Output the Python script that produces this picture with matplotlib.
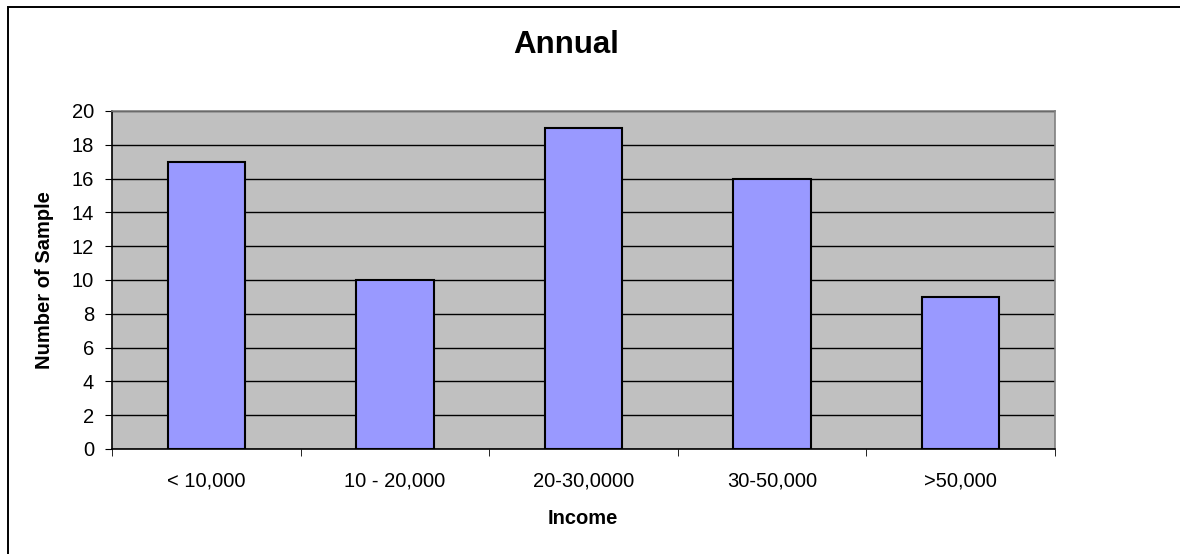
import matplotlib
matplotlib.use("Agg")
import matplotlib.pyplot as plt
from matplotlib.patches import Rectangle
import numpy as np

plt.rcParams['font.family'] = ['Liberation Sans', 'DejaVu Sans']

# data
categories = ["< 10,000", "10 - 20,000", "20-30,0000", "30-50,000", ">50,000"]
counts = [17, 10, 19, 16, 9]
y_ticks = list(range(0, 21, 2))

fig = plt.figure(figsize=(11.8, 5.54), dpi=100)
ax = fig.add_axes([112 / 1180, 1 - 449 / 554, (1055 - 112) / 1180, (449 - 111) / 554])

x = np.arange(len(categories))
ax.set_facecolor("#C0C0C0")
ax.bar(x, counts, width=0.41, color="#9999FF", edgecolor="black", linewidth=1.5, zorder=3)

ax.set_xlim(-0.5, len(categories) - 0.5)
ax.set_ylim(0, 20)
ax.set_yticks(y_ticks)
ax.yaxis.grid(True, color="black", linewidth=1.0, zorder=1)
ax.set_axisbelow(True)

ax.set_xticks(x)
ax.set_xticklabels(categories, fontsize=14.5)
ax.set_xticks(np.arange(-0.5, len(categories)), minor=True)
ax.tick_params(axis="x", which="major", length=0, pad=16)
ax.tick_params(axis="x", which="minor", length=5, direction="out", color="black")
ax.tick_params(axis="y", labelsize=14.5, length=5, direction="out", pad=8)

for side in ["left", "bottom"]:
    ax.spines[side].set_color("black")
    ax.spines[side].set_linewidth(1.2)
for side in ["top", "right"]:
    ax.spines[side].set_color("#808080")
    ax.spines[side].set_linewidth(1.2)

fig.text(566 / 1180, 1 - 45 / 554, "Annual", fontsize=22.5, fontweight="bold",
         ha="center", va="center")
fig.text(583 / 1180, 1 - 518 / 554, "Income", fontsize=14.5, fontweight="bold",
         ha="center", va="center")
fig.text(45 / 1180, 1 - 280 / 554, "Number of Sample", fontsize=14.5, fontweight="bold",
         ha="center", va="center", rotation=90)

# chart area border (only left and top edges are inside the image)
fig.patches.append(Rectangle((8 / 1180, -0.1), 1.2, 1 - 7 / 554 + 0.1,
                             transform=fig.transFigure, fill=False,
                             edgecolor="black", linewidth=1.4))

fig.savefig("out.png", dpi=100)
